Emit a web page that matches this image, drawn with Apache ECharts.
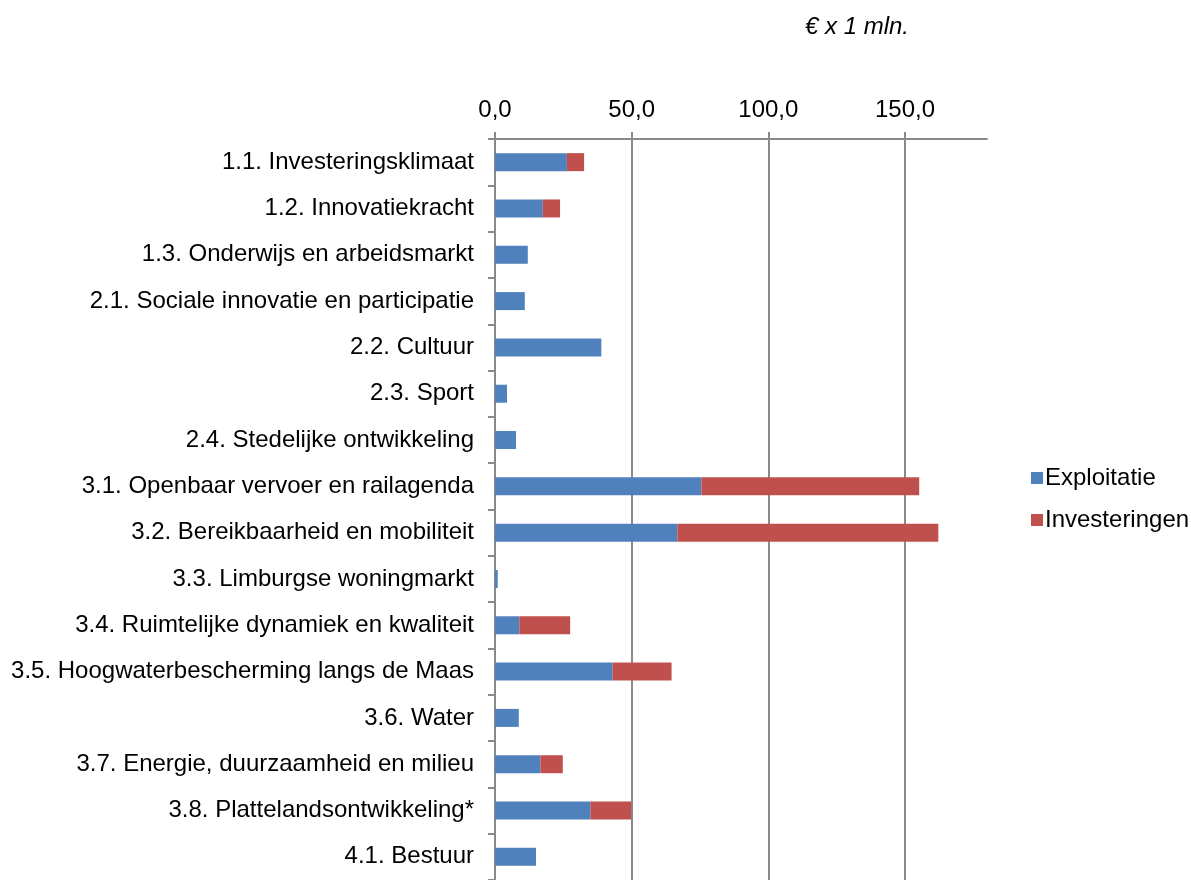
<!DOCTYPE html>
<html>
<head>
<meta charset="utf-8">
<script src="https://cdn.jsdelivr.net/npm/echarts@6/dist/echarts.min.js"></script>
<style>html,body{margin:0;padding:0;background:#fff}#c{width:1191px;height:880px}</style>
</head>
<body>
<div id="c"></div>
<script>
const categories = [
  "1.1. Investeringsklimaat",
  "1.2. Innovatiekracht",
  "1.3. Onderwijs en arbeidsmarkt",
  "2.1. Sociale innovatie en participatie",
  "2.2. Cultuur",
  "2.3. Sport",
  "2.4. Stedelijke ontwikkeling",
  "3.1. Openbaar vervoer en railagenda",
  "3.2. Bereikbaarheid en mobiliteit",
  "3.3. Limburgse woningmarkt",
  "3.4. Ruimtelijke dynamiek en kwaliteit",
  "3.5. Hoogwaterbescherming langs de Maas",
  "3.6. Water",
  "3.7. Energie, duurzaamheid en milieu",
  "3.8. Plattelandsontwikkeling*",
  "4.1. Bestuur"
];
const exploitatie = [26.3, 17.5, 12.0, 10.9, 38.9, 4.4, 7.7, 75.5, 66.7, 1.0, 8.9, 43.0, 8.7, 16.6, 34.9, 15.0];
const investeringen = [6.3, 6.3, 0, 0, 0, 0, 0, 79.7, 95.5, 0, 18.6, 21.6, 0, 8.2, 14.9, 0];
const seriesNames = ["Exploitatie", "Investeringen"];
const tickValues = [0, 50, 100, 150];
const unitLabel = "€ x 1 mln.";

const font = "'Liberation Sans', Arial, sans-serif";
const fs = 24;
const gray = "#8a8a8a";
const chart = echarts.init(document.getElementById('c'), null, {renderer: 'canvas'});
chart.setOption({
  animation: false,
  textStyle: {fontFamily: font},
  graphic: [{
    type: 'text', left: 805, top: 15,
    style: {text: unitLabel, font: "italic 24px 'Liberation Sans', Arial, sans-serif", fill: '#000'}
  }],
  legend: {
    orient: 'vertical', left: 1026, top: 461, itemGap: 18,
    icon: 'rect', itemWidth: 12, itemHeight: 12,
    textStyle: {fontSize: fs, color: '#000', fontFamily: font, padding: [0, 0, 0, -3]},
    data: seriesNames
  },
  grid: {left: 495, top: 139, width: 492, height: 746, containLabel: false},
  xAxis: {
    type: 'value', position: 'top', min: 0, max: 180, interval: 50,
    axisLine: {show: true, lineStyle: {color: gray, width: 2}},
    axisTick: {show: true, length: 7, customValues: tickValues, lineStyle: {color: gray, width: 2}},
    splitLine: {show: true, lineStyle: {color: gray, width: 2}},
    axisLabel: {
      fontSize: fs, color: '#000', margin: 17, fontFamily: font,
      customValues: tickValues,
      formatter: v => v.toFixed(1).replace('.', ',')
    }
  },
  yAxis: {
    type: 'category', inverse: true, data: categories,
    axisLine: {show: true, lineStyle: {color: gray, width: 2}},
    axisTick: {show: true, length: 7, alignWithLabel: false, lineStyle: {color: gray, width: 2}},
    axisLabel: {fontSize: fs, color: '#000', margin: 21, fontFamily: font}
  },
  series: [
    {name: seriesNames[0], type: 'bar', stack: 'a', data: exploitatie, barWidth: 18,
     itemStyle: {color: '#4F81BD'}},
    {name: seriesNames[1], type: 'bar', stack: 'a', data: investeringen, barWidth: 18,
     itemStyle: {color: '#C0504D'}}
  ]
});
</script>
</body>
</html>
